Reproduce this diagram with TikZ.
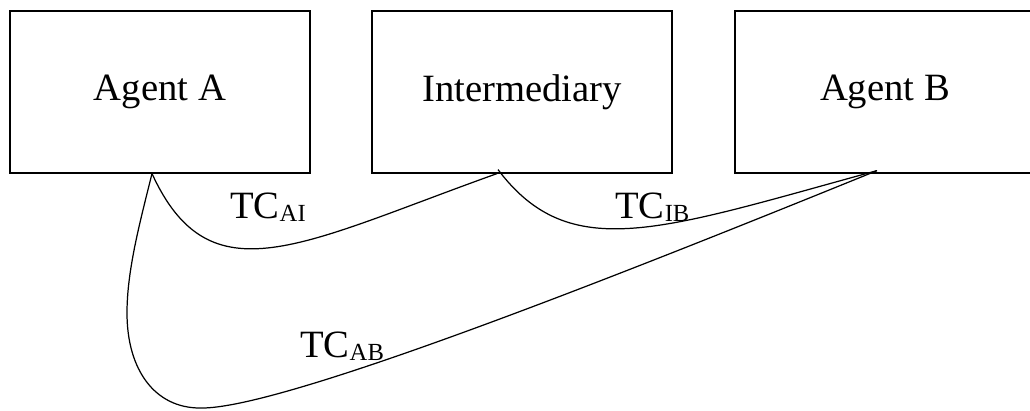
\documentclass[tikz,border=0pt]{standalone}
\usepackage{fontspec}
\setmainfont{Liberation Serif}
\usetikzlibrary{calc}
\newcommand{\tcsub}[1]{TC\raisebox{-2pt}{\fontsize{14}{14}\selectfont #1}}
\tikzset{
  party/.style={draw, rectangle, line width=0.7pt, minimum width=6cm, minimum height=3.24cm, font=\fontsize{22}{26}\selectfont},
  cost/.style={anchor=base west, inner sep=0pt, font=\fontsize{22}{26}\selectfont},
  link/.style={line width=0.7pt}
}
\begin{document}
\begin{tikzpicture}[x=0.02cm,y=-0.02cm]
      \useasboundingbox (0,0) rectangle (1030,410);
      \node[party] (agentA) at (160,92) {Agent A};
      \node[party] (inter) at (522,92) {Intermediary};
      \node[party] (agentB) at (885,92) {Agent B};
      \coordinate (a-out) at ($(agentA.south)+(-8,0)$);
      \coordinate (i-in) at ($(inter.south)+(-25,0)$);
      \coordinate (i-out) at ($(inter.south)+(-24,-4)$);
      \coordinate (b-in) at ($(agentB.south)+(-8,-3)$);
      \draw[link] (a-out) .. controls (210,300) and (300,244) .. (i-in);
      \draw[link] (i-out) .. controls (570,265) and (660,230) .. (b-in);
      \draw[link] (a-out) .. controls (140,222) and (127,270) .. (127,313)
                  .. controls (127,370) and (155,408) .. (200,408)
                  .. controls (280,410) and (620,275) .. (b-in);
      \node[cost] (tcAI) at (230,218) {\tcsub{AI}};
      \node[cost] (tcIB) at (615,218) {\tcsub{IB}};
      \node[cost] (tcAB) at (300,357) {\tcsub{AB}};
\end{tikzpicture}
\end{document}
